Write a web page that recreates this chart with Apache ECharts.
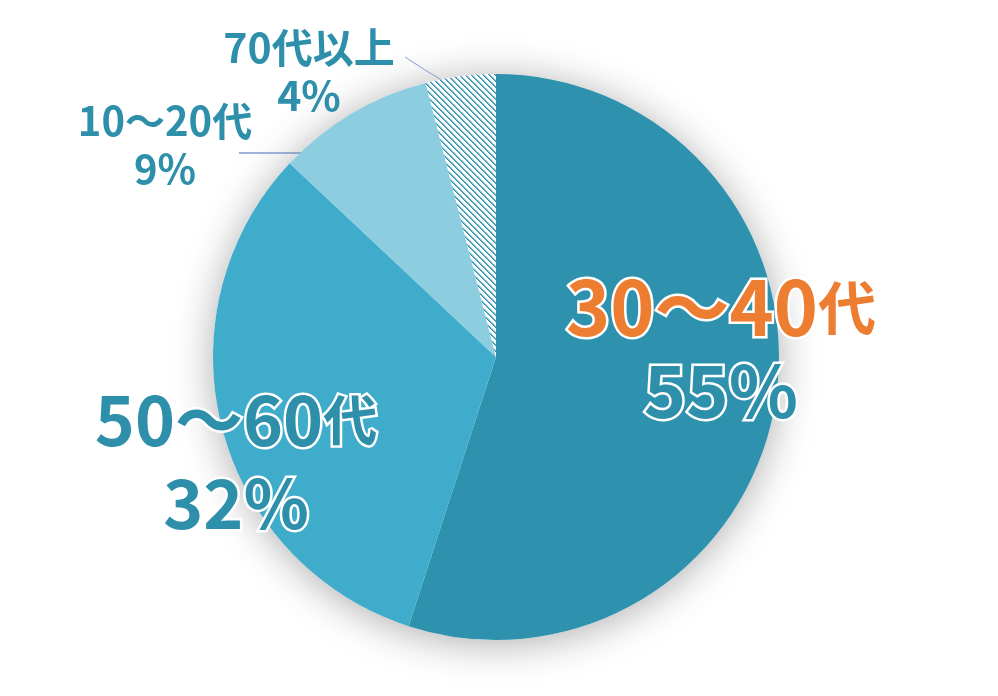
<!DOCTYPE html>
<html>
<head>
<meta charset="utf-8">
<script src="https://cdn.jsdelivr.net/npm/echarts@6/dist/echarts.min.js"></script>
<style>
html,body{margin:0;padding:0;background:#fff;}
#chart{width:998px;height:696px;}
</style>
</head>
<body>
<div id="chart"></div>
<script>
const categories = ['30～40代', '50～60代', '10～20代', '70代以上'];
const values = [55, 32, 9, 4];
const percentLabels = ['55%', '32%', '9%', '4%'];

const teal = '#2E8FAB';
const orange = '#ED7D31';
const font = '"Noto Sans CJK JP", "Noto Sans", sans-serif';

// hatch tile for the smallest slice ("\" diagonal stripes)
function makeHatch() {
  const n = 6;
  const c = document.createElement('canvas');
  c.width = n; c.height = n;
  const ctx = c.getContext('2d');
  const img = ctx.createImageData(n, n);
  for (let y = 0; y < n; y++) {
    for (let x = 0; x < n; x++) {
      const d = ((x - y) % n + n) % n;
      const k = (y * n + x) * 4;
      let col;
      if (d === 0) col = [46, 143, 171];
      else if (d === 1) col = [110, 178, 200];
      else if (d === 2) col = [215, 235, 242];
      else col = [255, 255, 255];
      img.data[k] = col[0]; img.data[k + 1] = col[1]; img.data[k + 2] = col[2]; img.data[k + 3] = 255;
    }
  }
  ctx.putImageData(img, 0, 0);
  return c;
}

const sliceColors = ['#2E91AE', '#3FACCC', '#8DCDE0', {image: makeHatch(), repeat: 'repeat'}];
const labelPos = [
  {x: 721, y: 349},
  {x: 236, y: 462},
  {x: 165, y: 145},
  {x: 309, y: 71}
];
const linePts = [null, null,
  [[312,153],[276,153],[239,153]],
  [[445,82],[425,70],[405,57]]
];

function bigRich(col1, col2, sa, sb, sc) {
  const base = {fontWeight: 'bold', fontFamily: font, textBorderColor: '#fff', textBorderWidth: 5, lineHeight: 83};
  return {
    a: Object.assign({fontSize: sa, color: col1}, base),
    b: Object.assign({fontSize: sb, color: col1}, base),
    c: Object.assign({fontSize: sc, color: col2}, base)
  };
}

function labelFor(i) {
  if (i === 0) {
    return {
      show: true, position: 'inside',
      formatter: () => '{a|30～40}{b|代}\n{c|' + percentLabels[0] + '}',
      rich: bigRich(orange, teal, 75, 58, 72)
    };
  }
  if (i === 1) {
    return {
      show: true, position: 'inside',
      formatter: () => '{a|50～60}{b|代}\n{c|' + percentLabels[1] + '}',
      rich: bigRich(teal, teal, 68, 54, 68)
    };
  }
  return {
    show: true, position: 'outside',
    formatter: () => categories[i] + '\n' + percentLabels[i],
    color: teal, fontSize: i === 3 ? 41 : 40, fontWeight: 'bold', fontFamily: font,
    lineHeight: 48
  };
}

const data = categories.map((name, i) => ({
  name: name,
  value: values[i],
  itemStyle: {color: sliceColors[i]},
  label: labelFor(i),
  labelLine: {show: i >= 2, lineStyle: {color: i === 3 ? '#8C9BD0' : '#3E6BB2', width: 1}}
}));

const chart = echarts.init(document.getElementById('chart'));
chart.setOption({
  backgroundColor: '#ffffff',
  animation: false,
  series: [
    {
      // shadow disc behind the pie
      type: 'pie',
      silent: true,
      center: [496, 357],
      radius: 283,
      label: {show: false},
      labelLine: {show: false},
      z: 1,
      itemStyle: {
        color: '#ffffff',
        shadowBlur: 40,
        shadowOffsetY: 4,
        shadowColor: 'rgba(0,0,0,0.32)'
      },
      data: [{value: 1, name: ''}]
    },
    {
      type: 'pie',
      z: 2,
      center: [496, 357],
      radius: 283,
      startAngle: 90,
      clockwise: true,
      avoidLabelOverlap: false,
      label: {align: 'center', verticalAlign: 'middle'},
      labelLayout: function (params) {
        const i = params.dataIndex;
        const r = {x: labelPos[i].x, y: labelPos[i].y, align: 'center', verticalAlign: 'middle'};
        if (linePts[i]) r.labelLinePoints = linePts[i];
        return r;
      },
      data: data
    }
  ]
});
</script>
</body>
</html>
